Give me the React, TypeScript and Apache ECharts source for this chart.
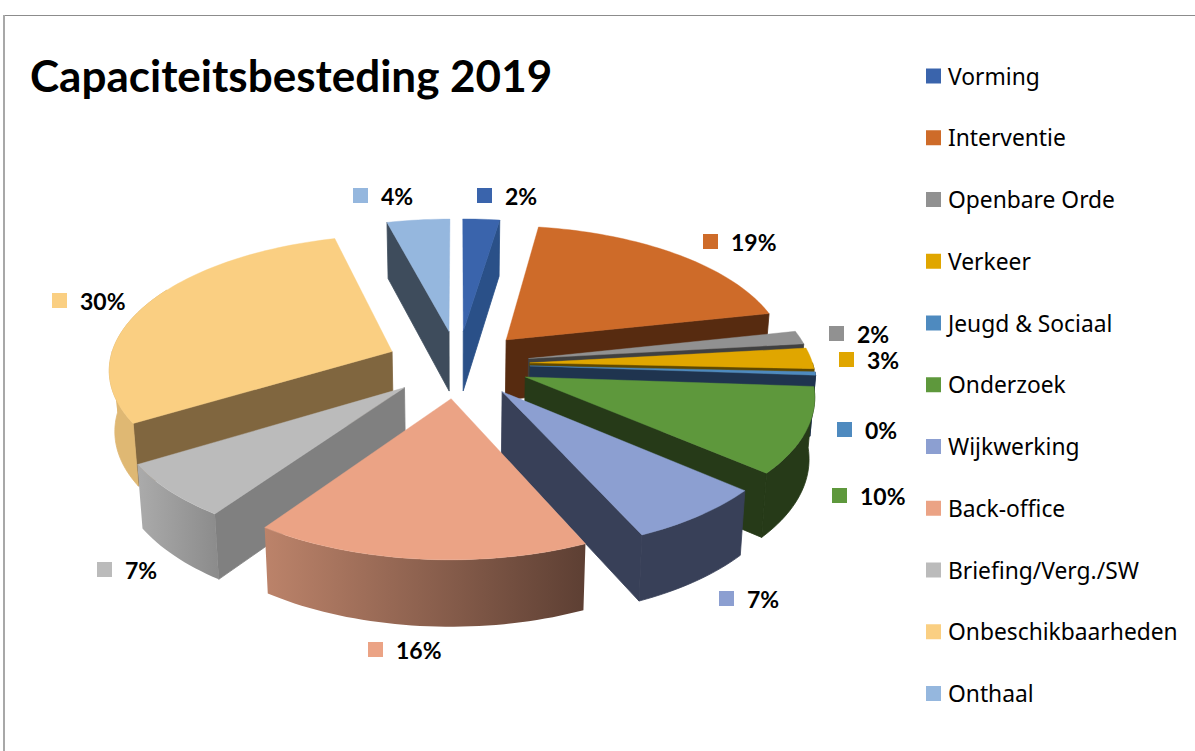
import React, { useEffect, useRef } from "react";
import * as echarts from "echarts";

const titleText = "Capaciteitsbesteding 2019";
const categories = ["Vorming", "Interventie", "Openbare Orde", "Verkeer", "Jeugd & Sociaal", "Onderzoek", "Wijkwerking", "Back-office", "Briefing/Verg./SW", "Onbeschikbaarheden", "Onthaal"];
const values = [2.4, 19.2, 1.6, 2.5, 0.4, 10.2, 6.95, 16.45, 6.6, 29.6, 4.1];
const topColors = ["#3A64AC", "#CE6B29", "#919191", "#E0A600", "#4E8ABF", "#5E983C", "#8C9FD1", "#EBA385", "#BBBBBB", "#FACF82", "#95B7DE"];
const radialWallColors = ["#2A5088", "#572B10", "#404040", "#5F4800", "#1F344F", "#263A18", "#384058", "#5E4035", "#808080", "#80663F", "#3E4C5C"];
const outerWallLeft = ["#2A5088", "#572B10", "#404040", "#5F4800", "#1F344F", "#263A18", "#384058", "#BC836A", "#ABABAB", "#DFB873", "#3E4C5C"];
const outerWallRight = ["#2A5088", "#572B10", "#404040", "#5F4800", "#1F344F", "#263A18", "#384058", "#5D3F33", "#8B8B8B", "#DFB873", "#3E4C5C"];
const paintOrder = [0, 10, 1, 2, 3, 4, 5, 9, 8, 6, 7];
const labelAnchors = [[477, 196], [703, 242], [829, 334], [839, 360], [837, 430], [832, 496], [719, 599], [368, 650], [97, 570], [52, 301], [353, 196]];

const CX = 458, CY = 364, AX = 283, BY = 133, PERSP = 0.119, EXPLODE = 0.254;
const total = values.reduce((a, b) => a + b, 0);
const RAD = Math.PI / 180;

function project(x: number, y: number) {
  const w = 1 + PERSP * y;
  return [CX + (AX * x) / w, CY - (BY * y) / w];
}
function drop(p: number[]) {
  const depth = 56 + (p[1] - 219) * 0.032;
  return [CX + (p[0] - CX) * 0.984, p[1] + depth];
}

function App() {
  const ref = useRef<HTMLDivElement>(null);
  useEffect(() => {
    document.body.style.margin = "0";
    const chart = echarts.init(ref.current!, undefined, { renderer: "svg" });
    let acc = 0;
    const spans = values.map((v) => {
      const a0 = (acc / total) * 360;
      acc += v;
      return [a0, (acc / total) * 360];
    });

    const series = categories.map((name, i) => {
      const [a0, a1] = spans[i];
      const mid = ((a0 + a1) / 2) * RAD;
      const ox = EXPLODE * Math.sin(mid), oy = EXPLODE * Math.cos(mid);
      const rim = (deg: number) => project(ox + Math.sin(deg * RAD), oy + Math.cos(deg * RAD));
      const arc = (from: number, to: number) => {
        const n = Math.max(2, Math.ceil((to - from) / 1.5));
        return Array.from({ length: n + 1 }, (_, k) => rim(from + ((to - from) * k) / n));
      };
      const tip = project(ox, oy);
      return {
        type: "custom",
        name,
        coordinateSystem: "none",
        z: 2 + paintOrder.indexOf(i),
        itemStyle: { color: topColors[i] },
        data: [[values[i]]],
        silent: true,
        renderItem: (_params: any, api: any) => {
          const value = api.value(0);
          const children: any[] = [];
          const radial = (deg: number) => {
            const p = rim(deg);
            const c = radialWallColors[i];
            children.push({ type: "polygon", shape: { points: [tip, p, drop(p), drop(tip)] }, style: { fill: c, stroke: c, lineWidth: 0.8 } });
          };
          if (Math.sin(a0 * RAD) < -0.001) radial(a0);
          if (Math.sin(a1 * RAD) > 0.001) radial(a1);
          // The side wall runs past 270 degrees up to the silhouette, split there because the strip folds back on itself.
          const o0 = Math.max(a0, 90), o1 = Math.min(a1, 300);
          const pieces = [[o0, Math.min(o1, 270)], [Math.max(o0, 270), o1]];
          pieces.forEach(([from, to]) => {
            if (to <= from) return;
            const top = arc(from, to);
            const pts = top.concat(top.slice().reverse().map(drop));
            const same = outerWallLeft[i] === outerWallRight[i];
            children.push({
              type: "polygon",
              shape: { points: pts },
              style: same
                ? { fill: outerWallLeft[i], stroke: outerWallLeft[i], lineWidth: 0.8 }
                : {
                    fill: new echarts.graphic.LinearGradient(0, 0, 1, 0, [
                      { offset: 0, color: outerWallLeft[i] },
                      { offset: 1, color: outerWallRight[i] },
                    ]),
                  },
            });
          });
          const face = [tip].concat(arc(a0, a1));
          children.push({ type: "polygon", shape: { points: face }, style: { fill: topColors[i], stroke: topColors[i], lineWidth: 0.4 } });
          const [lx, ly] = labelAnchors[i];
          children.push({ type: "rect", shape: { x: lx, y: ly - 8, width: 15, height: 15 }, style: { fill: topColors[i] } });
          children.push({
            type: "text",
            x: lx + 28,
            y: ly,
            style: {
              text: `${Math.round((value / total) * 100)}%`,
              fill: "#000",
              font: 'bold 23px Lato, "Noto Sans", sans-serif',
              textAlign: "left",
              textVerticalAlign: "middle",
            },
          });
          return { type: "group", children };
        },
      };
    });

    chart.setOption({
      animation: false,
      backgroundColor: "#FFFFFF",
      title: {
        text: titleText,
        left: 25,
        top: 48,
        textStyle: { fontFamily: "Lato, sans-serif", fontWeight: "bold", fontSize: 44, color: "#000" },
      },
      legend: {
        orient: "vertical",
        left: 921,
        top: 55,
        icon: "rect",
        itemWidth: 15,
        itemHeight: 15,
        itemGap: 29.75,
        selectedMode: false,
        data: categories,
        textStyle: { fontFamily: '"Noto Sans", sans-serif', fontSize: 22.8, color: "#000", lineHeight: 32, padding: [0, 0, 0, 2] },
      },
      graphic: [
        { type: "line", silent: true, shape: { x1: 3, y1: 15.5, x2: 1195, y2: 15.5 }, style: { stroke: "#8C8C8C", lineWidth: 1.2 } },
        { type: "line", silent: true, shape: { x1: 4, y1: 15, x2: 4, y2: 751 }, style: { stroke: "#A8A8A8", lineWidth: 2 } },
      ],
      series,
    });
    return () => chart.dispose();
  }, []);
  return <div ref={ref} style={{ width: 1195, height: 751, overflow: "hidden" }} />;
}

export default App;
